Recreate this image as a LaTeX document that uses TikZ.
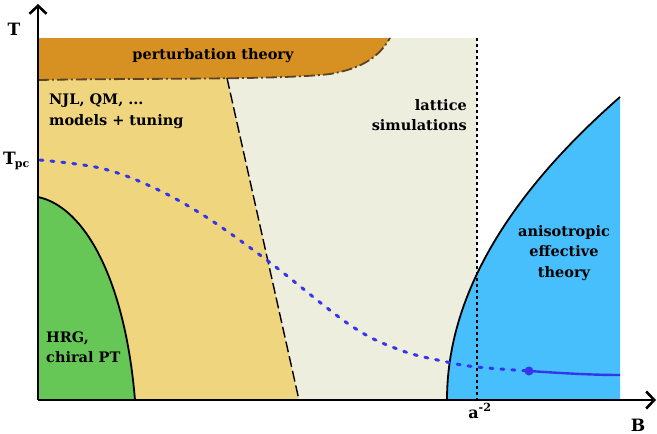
\documentclass[tikz,border=0pt]{standalone}
\usepackage{fontspec}
\setmainfont{DejaVu Serif}
\usetikzlibrary{arrows.meta}
\definecolor{ptorange}{HTML}{D79022}
\definecolor{njlyellow}{HTML}{F0D57F}
\definecolor{latbeige}{HTML}{EEEEDE}
\definecolor{hrggreen}{HTML}{66C656}
\definecolor{aniblue}{HTML}{47BFFD}
\definecolor{dashbrown}{HTML}{5A4425}
\definecolor{pcblue}{HTML}{3535EE}
\tikzset{
  lbl/.style={font=\fontsize{14.5}{20.5}\selectfont\bfseries, inner sep=0pt, align=left},
  axlbl/.style={font=\fontsize{17}{20}\selectfont\bfseries, inner sep=0pt},
  axisline/.style={line width=2.6pt, -{Straight Barb[length=8pt,width=17pt,line width=2.6pt]}},
  bnd/.style={line width=1.8pt, black},
}
\begin{document}
\begin{tikzpicture}[x=1pt,y=-1pt]
\useasboundingbox (0,0) rectangle (657,434);
% regions
\fill[latbeige] (38,38) rectangle (477,400);
\fill[njlyellow] (38,80) -- (227,78) -- (299,400) -- (38,400) -- cycle;
\fill[ptorange] (38,38) -- (390,38) .. controls (380,55) and (365,68) .. (330,74)
   .. controls (280,80) and (150,78) .. (38,80) -- cycle;
\fill[hrggreen] (38,197) .. controls (85,207) and (125,280) .. (135,400) -- (38,400) -- cycle;
\fill[aniblue] (447,400) .. controls (447,299) and (504.7,198) .. (620,97) -- (620,400) -- cycle;
% boundaries
\draw[bnd] (38,197) .. controls (85,207) and (125,280) .. (135,400);
\draw[bnd] (447,400) .. controls (447,299) and (504.7,198) .. (620,97);
\draw[line width=1.4pt, dash pattern=on 11pt off 4pt] (227,78) -- (299,400);
\draw[line width=1.8pt, dash pattern=on 3pt off 3pt] (477,38) -- (477,400);
\draw[dashbrown, line width=1.8pt, dash pattern=on 11pt off 3pt on 2pt off 3pt]
   (38,80) .. controls (150,78) and (280,80) .. (330,74)
   .. controls (365,68) and (380,55) .. (390,38);
% pseudo-critical line
\draw[pcblue, line width=3pt, line cap=round, dash pattern=on 3pt off 8pt]
   plot[smooth, tension=0.6] coordinates {(40,160) (100,168) (150,186) (203,215) (268,261) (350,325) (400,350) (447,362) (477,367) (529,371)};
\draw[pcblue, line width=2.4pt] (529,371) .. controls (560,373) and (590,375) .. (620,375);
\fill[pcblue] (529,371) circle (4.5pt);
% axes
\coordinate (O) at (38,400);
\coordinate (Ytop) at (38,4);
\coordinate (Xend) at (656,400);
\draw[axisline] (O) -- (Ytop);
\draw[axisline] (O) -- (Xend);
% labels
\node[axlbl] (T) at (14,29) {T};
\node[axlbl] (B) at (638,425) {B};
\node[axlbl, anchor=base west] (Tpc) at (3,164) {T\kern-1pt\raisebox{-3pt}{\fontsize{11}{11}\selectfont pc}};
\node[axlbl, anchor=base, font=\fontsize{16}{18}\selectfont\bfseries] (a2) at (480,418) {a\textsuperscript{-2}};
\node[lbl] (pt) at (213,56) {perturbation theory};
\node[lbl, anchor=west] (njl) at (49,111) {NJL, QM, ...\\models + tuning};
\node[lbl, anchor=east, align=right] (lat) at (467,115) {lattice\\simulations};
\node[lbl, align=center] (ani) at (564,253) {anisotropic\\effective\\theory};
\node[lbl, anchor=west] (hrg) at (46,347) {HRG,\\chiral PT};
\end{tikzpicture}
\end{document}
